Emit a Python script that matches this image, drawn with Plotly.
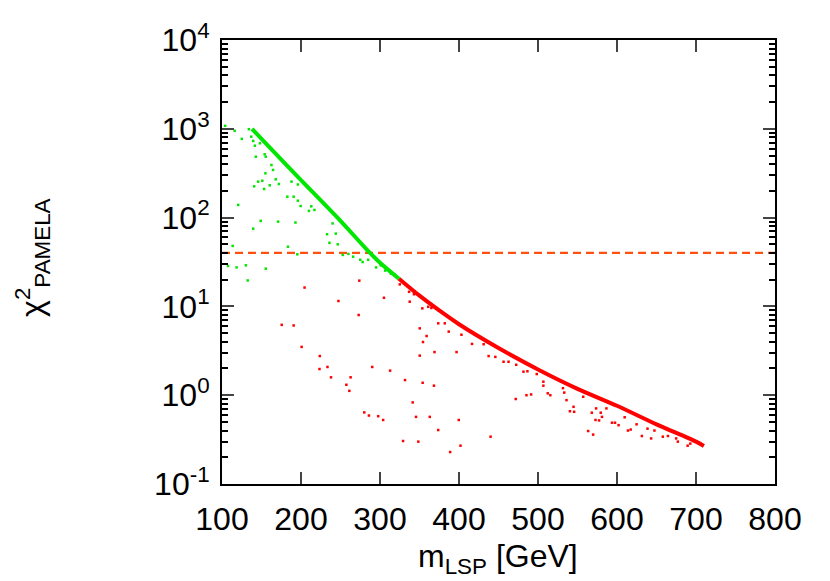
import plotly.graph_objects as go

# upper envelope of the scan (dense band)
env_green_x = [138, 160, 200, 250, 283, 300, 324]
env_green_y = [1000, 620, 265, 92, 44, 31, 20.5]
env_red_x = [324, 350, 375, 400, 450, 500, 550, 600, 650, 700, 710]
env_red_y = [20.5, 13.2, 9.0, 6.3, 3.4, 1.95, 1.18, 0.76, 0.47, 0.30, 0.268]

# scattered points below the envelope
green_x = [104, 116, 125, 134, 137, 139.5, 141.6, 142.8, 148, 154, 155.4, 155, 162.6, 164.6,
           140.7, 145.7, 151, 153.3, 160.4, 168, 172, 182.7, 190.7, 196, 199.5, 188, 196, 210,
           213, 217, 120.5, 149, 171, 193, 139.5, 183.5, 113.5, 195.3, 233, 236, 240, 244,
           246.5, 252.8, 260, 266, 107.6, 118.5, 130.2, 155.4, 132.5, 275, 278, 285, 295, 301,
           306.5, 313.7, 318]
green_y = [1080, 950, 770, 990, 815, 730, 645, 485, 687, 516, 485, 315, 391, 344,
           225, 254, 260, 210, 231, 270, 239, 172, 172, 155, 135, 254, 236, 119,
           134, 122, 139, 92, 90, 88, 75, 47, 48, 38.6, 65, 52, 86, 66,
           50, 38, 39, 36.3, 28.5, 27.5, 29, 26.6, 19.6, 33.5, 31.6, 33.5, 27.5, 29,
           25.3, 23.4, 23]

red_x = [204.5, 247.4, 273, 175.6, 190.7, 200.8, 223.8, 233.5, 223.4, 273.8, 305, 238, 262.8,
         257.4, 261.2, 290.2, 312.8, 331.7, 354, 368.3, 341.4, 280.1, 286, 297.7, 304, 345.6,
         363, 373.7, 329.2, 348.5, 350.3, 359, 354.4, 369, 350.3, 373.7, 325, 336.8, 343,
         337.6, 353.6, 388.8, 401.9, 399.7, 440, 396.9, 403.1, 416.5, 437.5, 446, 471.8, 485.4,
         491.3, 512.3, 515.6, 506.8, 506.8, 536.1, 545, 540.4, 545.8, 481.6, 486.6, 498.4,
         462.7, 472.4, 456.4, 431.2, 382, 387, 361, 365, 374.6, 531.6, 533.2, 557.2, 568.1,
         572.8, 577.3, 563.5, 569.8, 573.5, 579.4, 581, 593.7, 597.5, 602, 586.6, 609.7, 613.9,
         617.3, 624.8, 631.5, 638.6, 643.2, 647.4, 658, 664.5, 674.9, 677, 689.4, 692.8]
red_y = [16.3, 11.5, 8.0, 6.2, 6.1, 3.5, 2.76, 2.08, 1.97, 19.5, 12.5, 1.59, 1.59,
         1.31, 1.12, 2.08, 1.89, 1.48, 1.38, 1.28, 0.83, 0.64, 0.59, 0.58, 0.526, 0.57,
         0.57, 0.405, 0.305, 0.30, 5.66, 4.64, 3.97, 3.06, 2.79, 6.45, 17.7, 14.6, 13.7,
         11.3, 9.5, 0.229, 0.27, 0.526, 0.341, 3.06, 4.8, 3.78, 2.76, 2.7, 0.906, 1.0,
         1.02, 1.05, 1.0, 1.42, 1.28, 0.88, 0.74, 0.66, 0.65, 1.84, 1.86, 1.73,
         2.38, 2.2, 2.38, 3.75, 6.45, 5.2, 9.9, 9.6, 9.0, 1.2, 1.07, 0.96, 0.635,
         0.526, 0.52, 0.395, 0.36, 0.71, 0.635, 0.57, 0.49, 0.49, 0.46, 0.71, 0.564, 0.4,
         0.41, 0.47, 0.347, 0.42, 0.326, 0.40, 0.341, 0.347, 0.326, 0.30, 0.27, 0.285]

chi2_cut = 40
x_ticks = [100, 200, 300, 400, 500, 600, 700, 800]
y_ticks = [0.1, 1, 10, 100, 1000, 10000]
y_labels = ["10<sup>-1</sup>", "10<sup>0</sup>", "10<sup>1</sup>",
            "10<sup>2</sup>", "10<sup>3</sup>", "10<sup>4</sup>"]
y_minor = [m * 10.0 ** e for e in range(-1, 4) for m in range(2, 10)]

GREEN = "#00e600"
RED = "#ff0000"
FONT = "Liberation Sans, Arial, sans-serif"

fig = go.Figure()
fig.add_trace(go.Scatter(x=[x_ticks[0], x_ticks[-1]], y=[chi2_cut, chi2_cut], mode="lines",
                         line=dict(color="#ff5010", width=2.2, dash="8px,5px")))
fig.add_trace(go.Scatter(x=green_x, y=green_y, mode="markers",
                         marker=dict(color=GREEN, size=2.5, symbol="square")))
fig.add_trace(go.Scatter(x=red_x, y=red_y, mode="markers",
                         marker=dict(color=RED, size=2.5, symbol="square")))
fig.add_trace(go.Scatter(x=env_green_x, y=env_green_y, mode="lines",
                         line=dict(color=GREEN, width=4, shape="spline", smoothing=0.8)))
fig.add_trace(go.Scatter(x=env_red_x, y=env_red_y, mode="lines",
                         line=dict(color=RED, width=4, shape="spline", smoothing=0.8)))

# page body adds an 8px offset, so the figure is a little smaller than the window
fig.update_layout(
    width=822, height=573,
    margin=dict(l=214, r=55, t=32, b=97),
    paper_bgcolor="white", plot_bgcolor="white",
    showlegend=False,
    font=dict(family=FONT, size=32, color="black"),
    xaxis=dict(
        range=[100, 800], tickvals=x_ticks, ticks="inside", ticklen=12, tickwidth=2,
        tickfont=dict(size=32),
        showline=True, linewidth=2, linecolor="black", mirror="allticks",
        showgrid=False, zeroline=False, ticklabelstandoff=6, automargin=False,
    ),
    yaxis=dict(
        type="log", range=[-1, 4], tickvals=y_ticks, ticktext=y_labels,
        ticks="inside", ticklen=12, tickwidth=2, tickfont=dict(size=32),
        minor=dict(tickvals=y_minor, ticks="inside", ticklen=6, tickwidth=1.5,
                   tickcolor="black", showgrid=False),
        showline=True, linewidth=2, linecolor="black", mirror="allticks",
        showgrid=False, zeroline=False, ticklabelstandoff=4, automargin=False,
    ),
    annotations=[
        dict(text="χ<sup>2</sup><sub>PAMELA</sub>", xref="paper", yref="paper",
             x=-0.343, y=0.51, textangle=-90, showarrow=False,
             xanchor="center", yanchor="middle", font=dict(size=32)),
        dict(text="m<sub>LSP</sub> [GeV]", xref="paper", yref="paper",
             x=0.499, y=-0.167, showarrow=False,
             xanchor="center", yanchor="middle", font=dict(size=32)),
    ],
)

fig.write_html("out.html")
